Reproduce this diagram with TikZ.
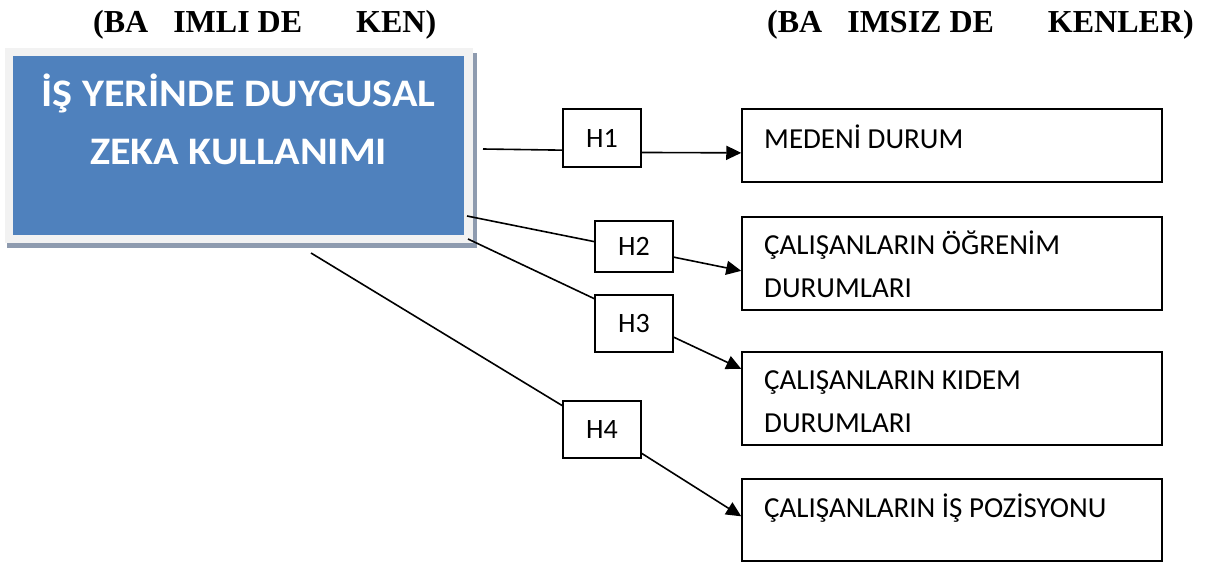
\documentclass[tikz,border=0pt]{standalone}
\usepackage{fontspec}
\setmainfont{Carlito}
\newfontfamily\headfont{Liberation Serif}
\newfontfamily\titlefont[FakeStretch=1.08]{Carlito}
\usetikzlibrary{arrows.meta}
\definecolor{TitleBlue}{HTML}{4F81BD}
\definecolor{FrameGray}{HTML}{F2F2F2}
\definecolor{ShadowGray}{HTML}{8E9BAF}

\begin{document}
\begin{tikzpicture}[x=1pt,y=-1pt,
	hbox/.style={draw, line width=1.5pt, minimum width=78pt, inner sep=0pt, font=\fontsize{28}{34}\selectfont},
	varbox/.style={draw, line width=1.5pt, minimum width=420pt, inner sep=0pt},
	vartext/.style={anchor=base west, inner sep=0pt, align=left, font=\fontsize{29}{43}\selectfont},
	headtext/.style={anchor=base west, inner sep=0pt, font=\headfont\bfseries\fontsize{32}{38}\selectfont},
	link/.style={line width=1.6pt},
	arrowlink/.style={link, -{Triangle[length=15pt,width=14pt]}}]

		% Diagram is 1205 wide and 562 high
		\useasboundingbox (0,0) rectangle (1205,562);

		% Headings above both columns
		\node[headtext] (dephead) at (93,32) {(BA\hspace{25pt}IMLI DE\hspace{54pt}KEN)};
		\node[headtext] (indhead) at (767,32) {(BA\hspace{25pt}IMSIZ DE\hspace{54pt}KENLER)};

		% Main box: shadow, light frame, blue face
		\fill[ShadowGray] (7,53) rectangle (477,248);
		\fill[FrameGray] (5,48) rectangle (473,243);
		\node[fill=TitleBlue, minimum width=451pt, minimum height=179pt, inner sep=0pt] (zeka) at (238.5,145.5) {};
		% (base of a two-line node sits on its last line)
		\node[anchor=base, inner sep=0pt, align=center, text=white, font=\titlefont\bfseries\fontsize{39}{58}\selectfont] (zekatitle) at (238.5,164) {İŞ YERİNDE DUYGUSAL\\ZEKA KULLANIMI};

		% Free ends of the lines leaving the main box
		\coordinate (out1) at (483,149);
		\coordinate (out2) at (467,216);
		\coordinate (out3) at (468,239);
		\coordinate (out4) at (311,253);

		% Hypothesis boxes
		\node[hbox, minimum height=58pt] (h1) at (602,138) {H1};
		\node[hbox, minimum height=51pt] (h2) at (634,246.5) {H2};
		\node[hbox, minimum height=57pt] (h3) at (634,323.5) {H3};
		\node[hbox, minimum height=57pt] (h4) at (602,429.5) {H4};

		% Independent variable boxes
		\node[varbox, minimum height=73pt] (medeni) at (952,145.5) {};
		\node[varbox, minimum height=93pt] (ogrenim) at (952,263.5) {};
		\node[varbox, minimum height=93pt] (kidem) at (952,398.5) {};
		\node[varbox, minimum height=82pt] (pozisyon) at (952,520) {};

		\node[vartext] (medenitext) at (764,148) {MEDENİ DURUM};
		\node[vartext] (ogrenimtext) at (764,297) {ÇALIŞANLARIN ÖĞRENİM\\DURUMLARI};
		\node[vartext] (kidemtext) at (764,432) {ÇALIŞANLARIN KIDEM\\DURUMLARI};
		\node[vartext] (pozisyontext) at (764,517) {ÇALIŞANLARIN İŞ POZİSYONU};

		% Lines into the hypotheses, arrows out to the variables
		\draw[link] (out1) -- (h1.197);
		\draw[link] (out2) -- (h2.173);
		\draw[link] (out3) -- (h3.148);
		\draw[link] (out4) -- (h4.149);

		\draw[arrowlink] (h1.340) -- (medeni.182);
		\draw[arrowlink] (h2.345) -- (ogrenim.182);
		\draw[arrowlink] (h3.341) -- (kidem.172);
		\draw[arrowlink] (h4.329) -- (pozisyon.179);
	\end{tikzpicture}
\end{document}
